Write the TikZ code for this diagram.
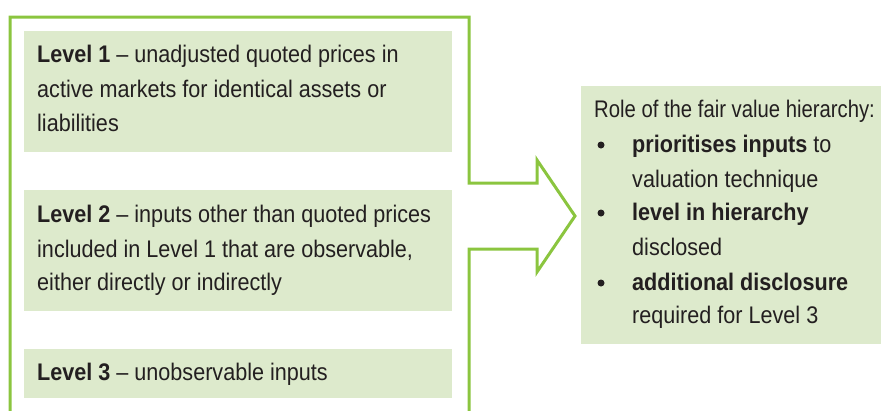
\documentclass[tikz,border=0pt]{standalone}
\usepackage{fontspec}
\setmainfont{Liberation Sans}[FakeStretch=0.9]
\newfontfamily\narrowfont{Liberation Sans}[FakeStretch=0.845]
\definecolor{boxfill}{HTML}{DDEACC}
\definecolor{frame}{HTML}{8BC53F}
\definecolor{txt}{HTML}{231F20}
\tikzset{
  panel/.style={fill=boxfill, draw=none},
  ln/.style={anchor=base west, inner sep=0pt, text=txt, font=\fontsize{24}{28}\selectfont},
  dot/.style={circle, fill=txt, inner sep=0pt, minimum size=7pt},
  outline/.style={draw=frame, line width=3pt, line join=miter}
}
\begin{document}
\begin{tikzpicture}[x=1pt,y=-1pt]
\useasboundingbox (0,0) rectangle (881,410);
% outline bracket-arrow
\coordinate (o1) at (10,420);
\coordinate (o2) at (10,17);
\coordinate (o3) at (469,17);
\coordinate (o4) at (469,183);
\coordinate (o5) at (537,183);
\coordinate (o6) at (537,160);
\coordinate (tip) at (575,216);
\coordinate (o7) at (537,272);
\coordinate (o8) at (537,249);
\coordinate (o9) at (469,249);
\coordinate (o10) at (469,420);
\draw[outline] (o1) -- (o2) -- (o3) -- (o4) -- (o5) -- (o6) -- (tip) -- (o7) -- (o8) -- (o9) -- (o10);
% panels
\fill[panel] (24,31) rectangle (452,152);
\fill[panel] (24,190) rectangle (452,311);
\fill[panel] (24,349) rectangle (452,398);
\fill[panel] (581,86) rectangle (881,344);
% Level 1
\node[ln] (l1a) at (37,62) {\textbf{Level 1} -- unadjusted quoted prices in};
\node[ln] (l1b) at (37,97) {active markets for identical assets or};
\node[ln] (l1c) at (37,131) {liabilities};
% Level 2
\node[ln] (l2a) at (37,222) {\textbf{Level 2} -- inputs other than quoted prices};
\node[ln] (l2b) at (37,257) {included in Level 1 that are observable,};
\node[ln] (l2c) at (37,290) {either directly or indirectly};
% Level 3
\node[ln] (l3a) at (37,380) {\textbf{Level 3} -- unobservable inputs};
% Role
\node[ln] (r0) at (594,117) {\narrowfont Role of the fair value hierarchy:};
\node[dot] (b1) at (601,145) {};
\node[ln] (r1a) at (632,152) {\textbf{prioritises inputs} to};
\node[ln] (r1b) at (632,187) {valuation technique};
\node[dot] (b2) at (601,213) {};
\node[ln] (r2a) at (632,220) {\textbf{level in hierarchy}};
\node[ln] (r2b) at (632,255) {disclosed};
\node[dot] (b3) at (601,283) {};
\node[ln] (r3a) at (632,290) {\textbf{additional disclosure}};
\node[ln] (r3b) at (632,323) {required for Level 3};
\end{tikzpicture}
\end{document}
